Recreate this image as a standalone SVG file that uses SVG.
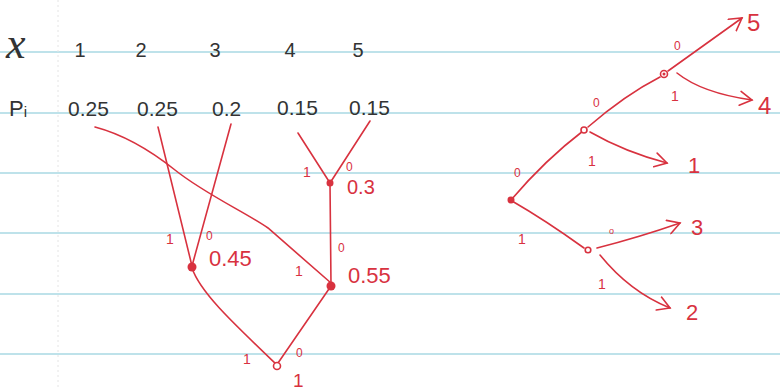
<svg xmlns="http://www.w3.org/2000/svg" width="780" height="390" viewBox="0 0 780 390">
<style>
.rule{stroke:#a9d9e3;stroke-width:1.6}
.ink{fill:#333;font-family:"Liberation Sans",Arial,sans-serif}
.red{fill:#d8323f;font-family:"Liberation Sans",Arial,sans-serif}
.lab{font-size:14px}
.zero{font-size:12px}
.ln{fill:none;stroke:#d8323f;stroke-width:1.6;stroke-linecap:round}
.dot{fill:#d8323f}
.odot{fill:#fff;stroke:#d8323f;stroke-width:1.6}
</style>
<defs>
<marker id="ah" markerUnits="userSpaceOnUse" markerWidth="16" markerHeight="16" refX="13" refY="8" orient="auto" viewBox="0 0 16 16">
<path d="M1,1 L13,8 L1,15" fill="none" stroke="#d8323f" stroke-width="1.6" stroke-linecap="round"/>
</marker>
</defs>
<rect width="780" height="390" fill="#fff"/>
<g id="paper">
<line class="rule" x1="0" y1="52" x2="780" y2="52"/>
<line class="rule" x1="0" y1="113" x2="780" y2="113"/>
<line class="rule" x1="0" y1="173" x2="780" y2="173"/>
<line class="rule" x1="0" y1="233" x2="780" y2="233"/>
<line class="rule" x1="0" y1="294" x2="780" y2="294"/>
<line class="rule" x1="0" y1="354" x2="780" y2="354"/>
<line x1="58" y1="0" x2="58" y2="390" stroke="#e4e4e4" stroke-width="1" stroke-dasharray="2 3"/>
</g>
<g id="table">
<text x="6" y="58" style="fill:#333;font-family:'Liberation Serif',serif;font-style:italic;font-size:44px">x</text>
<text class="ink" x="80" y="57" font-size="20" text-anchor="middle">1</text>
<text class="ink" x="141" y="57" font-size="20" text-anchor="middle">2</text>
<text class="ink" x="215" y="57" font-size="20" text-anchor="middle">3</text>
<text class="ink" x="290" y="57" font-size="20" text-anchor="middle">4</text>
<text class="ink" x="358" y="57" font-size="20" text-anchor="middle">5</text>
<text class="ink" x="9" y="116" font-size="22">P<tspan font-size="15" dy="1">i</tspan></text>
<text class="ink" x="68" y="116" font-size="21">0.25</text>
<text class="ink" x="137" y="116" font-size="21">0.25</text>
<text class="ink" x="212" y="116" font-size="21">0.2</text>
<text class="ink" x="277" y="115" font-size="21">0.15</text>
<text class="ink" x="349" y="115" font-size="21">0.15</text>
</g>
<g id="connectors">
<path class="ln" d="M95,127 C125,135 150,150 175,170 C205,194 245,212 268,228 L331,283"/>
<path class="ln" d="M158,127 L192,266"/>
<path class="ln" d="M231,124 L192,266"/>
<path class="ln" d="M298,133 L330,183"/>
<path class="ln" d="M370,121 L330,183"/>
<path class="ln" d="M330,183 L331,285"/>
<path class="ln" d="M192,268 C200,292 232,322 276,364"/>
<path class="ln" d="M331,286 L278,363"/>
<path class="ln" d="M511,200 Q545,160 583,131"/>
<path class="ln" d="M588,127 Q625,95 660,77"/>
<path class="ln" d="M668,71 Q700,48 742,18" marker-end="url(#ah)"/>
<path class="ln" d="M677,73 Q702,93 752,100" marker-end="url(#ah)"/>
<path class="ln" d="M590,132 Q625,152 667,163" marker-end="url(#ah)"/>
<path class="ln" d="M512,201 Q545,220 584,248"/>
<path class="ln" d="M597,248 Q640,237 680,223" marker-end="url(#ah)"/>
<path class="ln" d="M600,255 Q630,292 670,308" marker-end="url(#ah)"/>
</g>
<g id="n03">
<circle class="dot" cx="330" cy="183" r="3.5"/>
<text class="red lab" x="303" y="177">1</text>
<text class="red zero" x="346" y="171">0</text>
<text class="red" x="347" y="194" font-size="20">0.3</text>
</g>
<g id="n045">
<circle class="dot" cx="192" cy="267" r="4.5"/>
<text class="red lab" x="166" y="244">1</text>
<text class="red zero" x="206" y="240">0</text>
<text class="red" x="209" y="266" font-size="22">0.45</text>
</g>
<g id="n055">
<circle class="dot" cx="331" cy="286" r="4.5"/>
<text class="red zero" x="338" y="252">0</text>
<text class="red lab" x="295" y="276">1</text>
<text class="red" x="348" y="283" font-size="22">0.55</text>
</g>
<g id="nroot">
<circle class="odot" cx="277" cy="366" r="3.5"/>
<text class="red lab" x="243" y="364">1</text>
<text class="red zero" x="296" y="357">0</text>
<text class="red" x="293" y="387" font-size="19">1</text>
</g>
<g id="rroot">
<circle class="dot" cx="511" cy="200" r="3.5"/>
<text class="red zero" x="514" y="177">0</text>
<text class="red lab" x="518" y="244">1</text>
</g>
<g id="rA">
<circle class="odot" cx="584" cy="130" r="3"/>
<text class="red zero" x="593" y="107">0</text>
<text class="red lab" x="588" y="166">1</text>
</g>
<g id="rB">
<circle class="odot" cx="664" cy="74" r="3.5"/>
<circle class="dot" cx="664" cy="74" r="1.5"/>
<text class="red zero" x="674" y="50">0</text>
<text class="red lab" x="671" y="101">1</text>
</g>
<g id="rC">
<circle class="odot" cx="588" cy="250" r="2.8"/>
<text class="red" x="609" y="234" font-size="9">o</text>
<text class="red lab" x="598" y="289">1</text>
</g>
<g id="leaves">
<text class="red" x="747" y="31" font-size="24">5</text>
<text class="red" x="758" y="114" font-size="24">4</text>
<text class="red" x="688" y="173" font-size="22">1</text>
<text class="red" x="691" y="235" font-size="22">3</text>
<text class="red" x="686" y="320" font-size="22">2</text>
</g>
</svg>
